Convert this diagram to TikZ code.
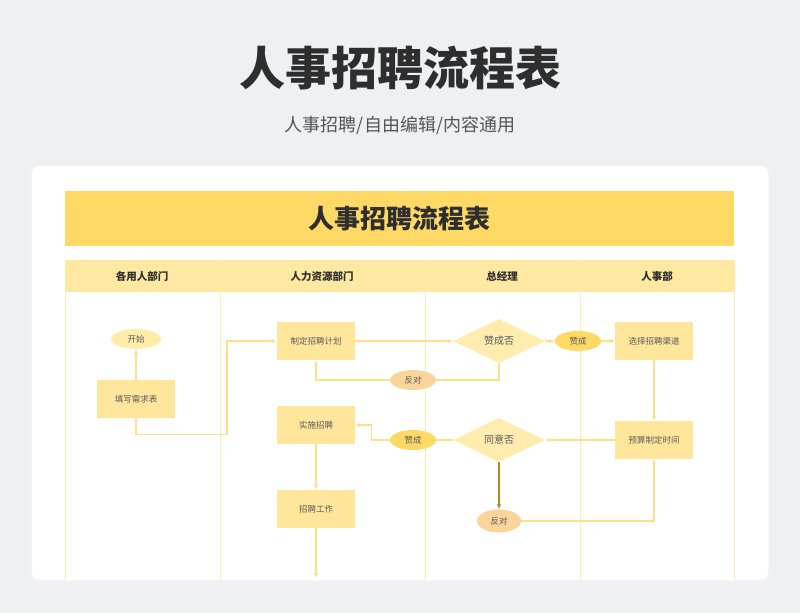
\documentclass[tikz,border=0pt]{standalone}
\usepackage{fontspec}
\setmainfont{Noto Sans CJK SC}
\usetikzlibrary{shapes.geometric,arrows.meta}

\definecolor{bggray}{HTML}{EEF0F3}
\definecolor{titlegray}{HTML}{2E2E2E}
\definecolor{subgray}{HTML}{555555}
\definecolor{textgray}{HTML}{5A5A5A}
\definecolor{banner}{HTML}{FFD965}
\definecolor{headfill}{HTML}{FFE8A2}
\definecolor{boxfill}{HTML}{FFE69B}
\definecolor{diafill}{HTML}{FFECAE}
\definecolor{startfill}{HTML}{FFEDA8}
\definecolor{yesfill}{HTML}{FFD966}
\definecolor{nofill}{HTML}{FAD59B}
\definecolor{flowline}{HTML}{FFDF88}
\definecolor{laneline}{HTML}{FFEAB0}
\definecolor{darkline}{HTML}{A88B1E}

\begin{document}
\begin{tikzpicture}[x=1pt, y=-1pt,
    proc/.style={fill=boxfill, minimum width=78pt, minimum height=38pt, font=\fontsize{8.5}{10}\selectfont, text=textgray},
    decide/.style={diamond, fill=diafill, minimum width=92pt, minimum height=44pt, inner sep=0pt, font=\fontsize{10}{12}\selectfont, text=textgray},
    term/.style={ellipse, minimum width=46pt, minimum height=20pt, inner sep=0pt, font=\fontsize{8.5}{10}\selectfont, text=textgray},
    head/.style={font=\fontsize{10.5}{12}\selectfont\bfseries, text=titlegray},
    lane/.style={draw=laneline, line width=0.8pt},
    flow/.style={draw=flowline, line width=1.3pt},
    arrow/.style={flow, -{Latex[length=5pt,width=4.5pt]}}
]
\fill[bggray] (0,0) rectangle (800,613);
\useasboundingbox (0,0) rectangle (800,613);

\node[font=\fontsize{46}{50}\selectfont\bfseries, text=titlegray] (title) at (400,68) {人事招聘流程表};
\node[font=\fontsize{18}{21}\selectfont, text=subgray] (subtitle) at (400,125) {人事招聘/自由编辑/内容通用};

% card
\fill[black!5, rounded corners=9pt] (30,166) rectangle (770,583);
\fill[white, rounded corners=8pt] (32,166) rectangle (768,580);
\fill[banner] (65,191) rectangle (734,246);
\node[font=\fontsize{26}{30}\selectfont\bfseries, text=titlegray] (banner) at (399.5,219) {人事招聘流程表};

% lanes
\fill[headfill] (65,260) rectangle (734,292);
\foreach \x in {65,220,425,580,734}
    \draw[lane] (\x,260) -- (\x,580);
\node[head] (lane1) at (142,276) {各用人部门};
\node[head] (lane2) at (322,276) {人力资源部门};
\node[head] (lane3) at (502,276) {总经理};
\node[head] (lane4) at (657,276) {人事部};

\node[term, fill=startfill, minimum width=50pt] (start) at (136,339) {开始};
\node[proc] (form) at (136,399) {填写需求表};
\node[proc] (plan) at (316,341) {制定招聘计划};
\node[decide] (approve) at (499,341) {赞成否};
\node[term, fill=yesfill] (yes1) at (578,341) {赞成};
\node[proc] (channel) at (654,341) {选择招聘渠道};
\node[term, fill=nofill] (no1) at (413,380) {反对};
\node[proc] (carry) at (316,425) {实施招聘};
\node[term, fill=yesfill] (yes2) at (413,440) {赞成};
\node[decide] (agree) at (499,440) {同意否};
\node[proc] (budget) at (654,440) {预算制定时间};
\node[proc] (work) at (316,509) {招聘工作};
\node[term, fill=nofill, minimum width=44pt, minimum height=23pt] (no2) at (499,521) {反对};
\coordinate (cardend) at (316,578);

\draw[arrow] (form) -- (start);
\draw[arrow] (form.south) -- ++(0,16) -| (227,341) -- (plan.west);
\draw[arrow] (plan) -- (approve);
\draw[arrow] (approve) -- (yes1);
\draw[arrow] (yes1) -- (channel);
\draw[flow] (approve.south) |- (no1.east);
\draw[arrow] (no1.west) -| (plan.south);
\draw[arrow] (channel) -- (budget);
\draw[arrow] (budget) -- (agree);
\draw[flow] (agree.west) -- (yes2.east);
\draw[arrow] (yes2.west) -- ++(-18,0) |- (carry.east);
\draw[arrow, draw=darkline] (agree.south) -- (no2.north);
\draw[arrow] (no2.east) -| (budget.south);
\draw[arrow] (carry) -- (work);
\draw[arrow] (work) -- (cardend);
\end{tikzpicture}
\end{document}
